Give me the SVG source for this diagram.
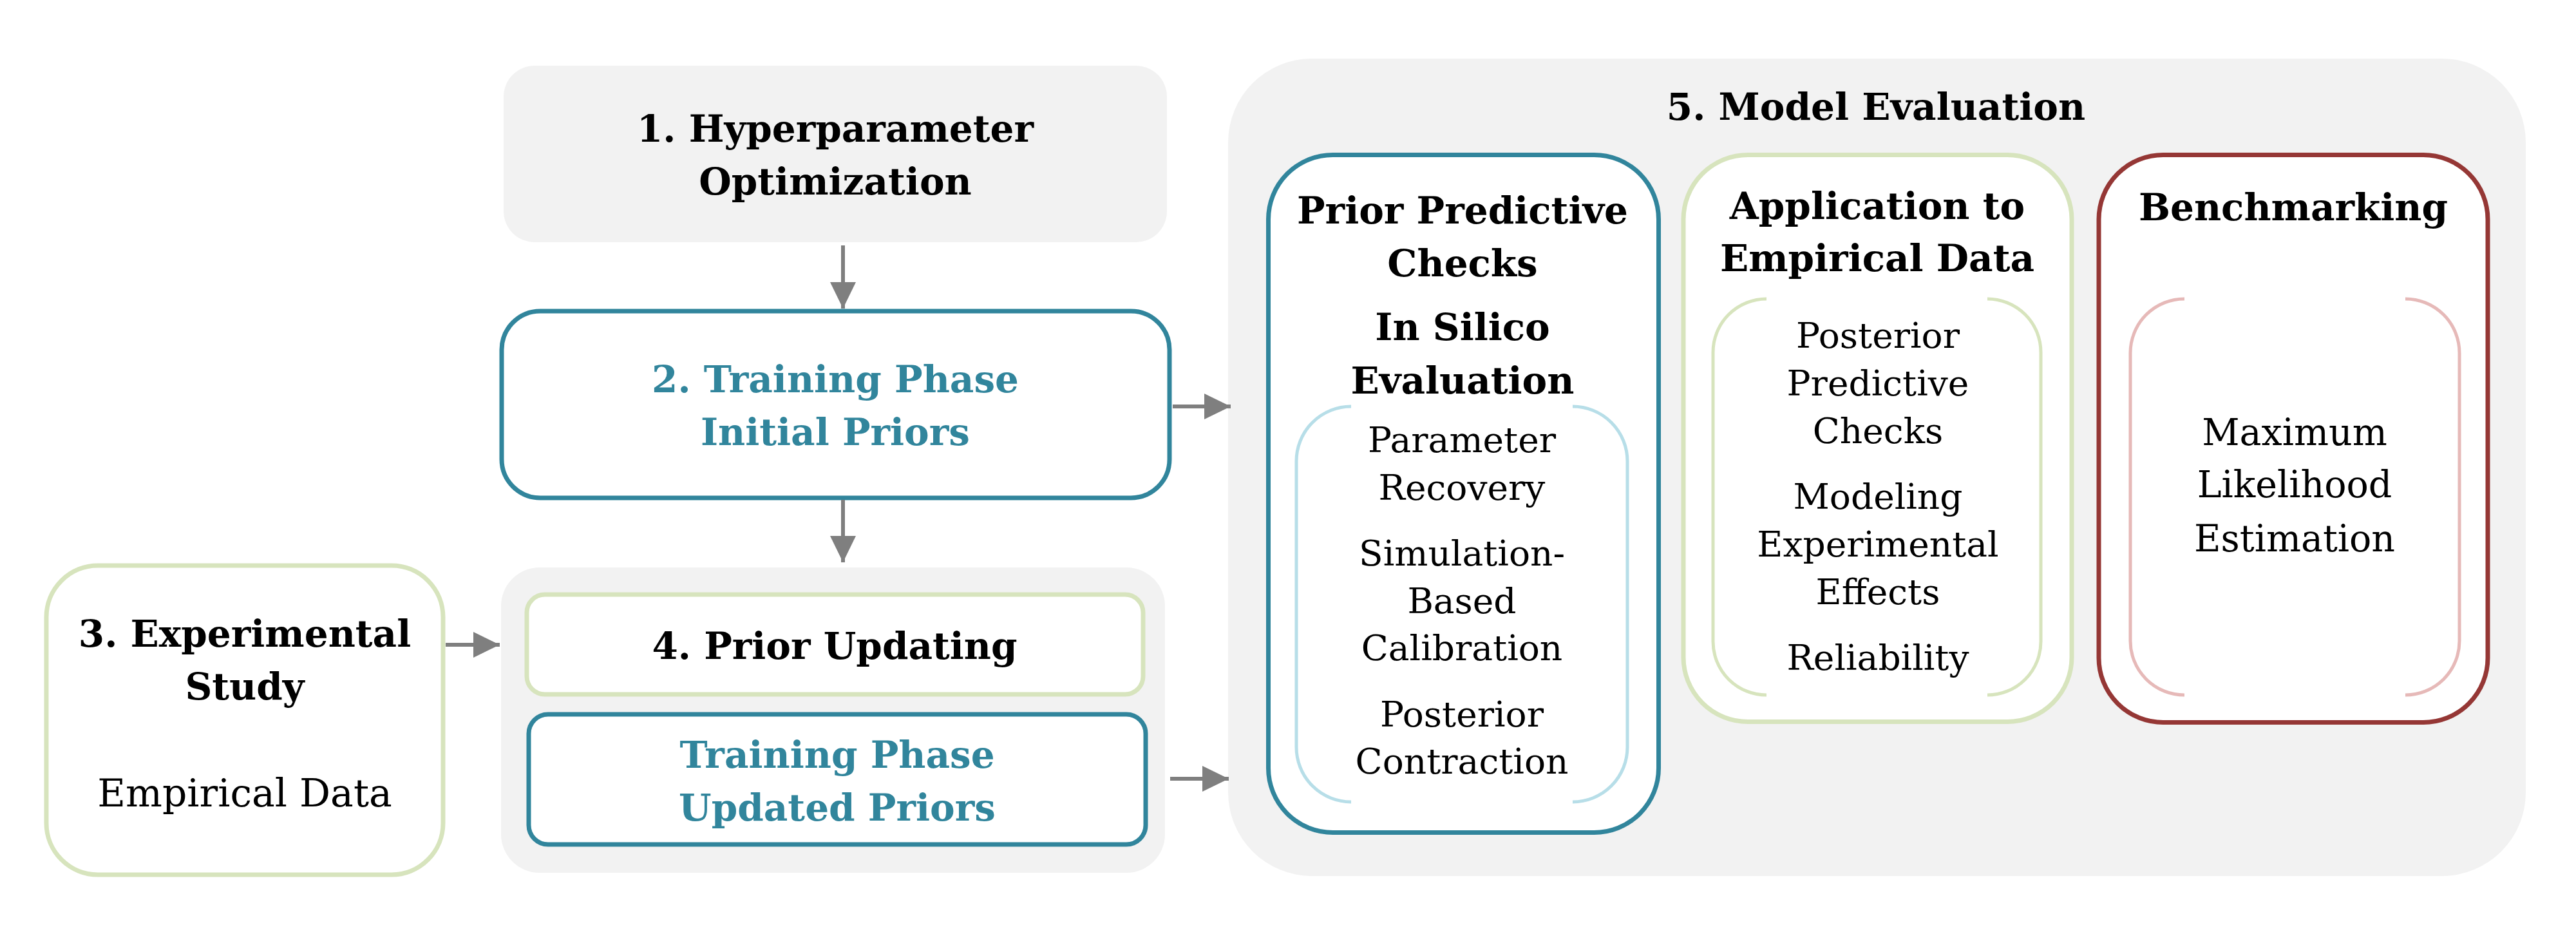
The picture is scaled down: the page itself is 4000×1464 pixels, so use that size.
<svg xmlns="http://www.w3.org/2000/svg" width="4000" height="1464" viewBox="0 0 4000 1464">
<defs>
<marker id="ah" viewBox="0 0 41 40" refX="41" refY="20" markerWidth="41" markerHeight="40" markerUnits="userSpaceOnUse" orient="auto">
<path d="M0 0 L41 20 L0 40 Z" fill="#7f7f7f"/>
</marker>
<style>
text{font-family:"DejaVu Serif","Liberation Serif",serif;text-anchor:middle;fill:#000}
.b{font-weight:bold;font-size:58px}
.r{font-size:55px}
.tl{fill:#31859c}
.bg{fill:#f2f2f2;stroke:none}
.teal{fill:#fff;stroke:#31859c;stroke-width:7}
.grn{fill:#fff;stroke:#d7e4bd;stroke-width:7}
.red{fill:#fff;stroke:#953735;stroke-width:7}
.br{fill:none;stroke-width:5}
.conn line{stroke:#7f7f7f;stroke-width:6;marker-end:url(#ah)}
</style>
</defs>
<rect width="4000" height="1464" fill="#fff"/>

<g id="n1">
<rect class="bg" x="782" y="102" width="1030" height="274" rx="48"/>
<text class="b" x="1297" y="220">1. Hyperparameter</text>
<text class="b" x="1297" y="302">Optimization</text>
</g>

<g id="n2">
<rect class="teal" x="779" y="483" width="1037" height="290" rx="60"/>
<text class="b tl" x="1297" y="609">2. Training Phase</text>
<text class="b tl" x="1297" y="691">Initial Priors</text>
</g>

<g id="n3">
<rect class="grn" x="72" y="878" width="616" height="480" rx="80"/>
<text class="b" x="380" y="1004">3. Experimental</text>
<text class="b" x="380" y="1086">Study</text>
<text class="r" x="380" y="1252" style="font-size:60px">Empirical Data</text>
</g>

<g id="n4">
<rect class="bg" x="778" y="881" width="1031" height="474" rx="60"/>
<g id="n4a">
<rect class="grn" x="818" y="923" width="957" height="155" rx="28"/>
<text class="b" x="1296" y="1023">4. Prior Updating</text>
</g>
<g id="n4b">
<rect class="teal" x="821" y="1109" width="958" height="202" rx="30"/>
<text class="b tl" x="1300" y="1192">Training Phase</text>
<text class="b tl" x="1300" y="1274">Updated Priors</text>
</g>
</g>

<g id="n5">
<rect class="bg" x="1907" y="91" width="2015" height="1269" rx="130"/>
<text class="b" x="2913" y="186">5. Model Evaluation</text>

<g id="n5a">
<rect class="teal" x="1969.5" y="240.5" width="606" height="1052" rx="100"/>
<text class="b" x="2271" y="347">Prior Predictive</text>
<text class="b" x="2271" y="429">Checks</text>
<text class="b" x="2271" y="528">In Silico</text>
<text class="b" x="2271" y="611">Evaluation</text>
<path class="br" stroke="#b7dee8" d="M2098 631 A85 85 0 0 0 2013 716 V1160 A85 85 0 0 0 2098 1245 M2442 631 A85 85 0 0 1 2527 716 V1160 A85 85 0 0 1 2442 1245"/>
<text class="r" x="2270" y="702">Parameter</text>
<text class="r" x="2270" y="776">Recovery</text>
<text class="r" x="2270" y="878">Simulation-</text>
<text class="r" x="2270" y="952">Based</text>
<text class="r" x="2270" y="1025">Calibration</text>
<text class="r" x="2270" y="1128">Posterior</text>
<text class="r" x="2270" y="1201">Contraction</text>
</g>

<g id="n5b">
<rect class="grn" x="2614" y="240.5" width="603" height="880" rx="100"/>
<text class="b" x="2915" y="340">Application to</text>
<text class="b" x="2915" y="421">Empirical Data</text>
<path class="br" stroke="#d7e4bd" d="M2743 464 A83 83 0 0 0 2660 547 V996 A83 83 0 0 0 2743 1079 M3086 464 A83 83 0 0 1 3169 547 V996 A83 83 0 0 1 3086 1079"/>
<text class="r" x="2916" y="540">Posterior</text>
<text class="r" x="2916" y="614">Predictive</text>
<text class="r" x="2916" y="688">Checks</text>
<text class="r" x="2916" y="790">Modeling</text>
<text class="r" x="2916" y="864">Experimental</text>
<text class="r" x="2916" y="938">Effects</text>
<text class="r" x="2916" y="1040">Reliability</text>
</g>

<g id="n5c">
<rect class="red" x="3259" y="240.5" width="604" height="881" rx="100"/>
<text class="b" x="3561" y="342">Benchmarking</text>
<path class="br" stroke="#e6b9b8" d="M3392 464 A84 84 0 0 0 3308 548 V995 A84 84 0 0 0 3392 1079 M3735 464 A84 84 0 0 1 3819 548 V995 A84 84 0 0 1 3735 1079"/>
<text class="r" x="3563" y="691" style="font-size:57px">Maximum</text>
<text class="r" x="3563" y="772" style="font-size:57px">Likelihood</text>
<text class="r" x="3563" y="856" style="font-size:57px">Estimation</text>
</g>
</g>

<g id="connectors" class="conn">
<line x1="1309" y1="381" x2="1309" y2="479"/>
<line x1="1309" y1="776" x2="1309" y2="873"/>
<line x1="692" y1="1001" x2="776" y2="1001"/>
<line x1="1821" y1="631" x2="1911" y2="631"/>
<line x1="1817" y1="1209" x2="1908" y2="1209"/>
</g>
</svg>
